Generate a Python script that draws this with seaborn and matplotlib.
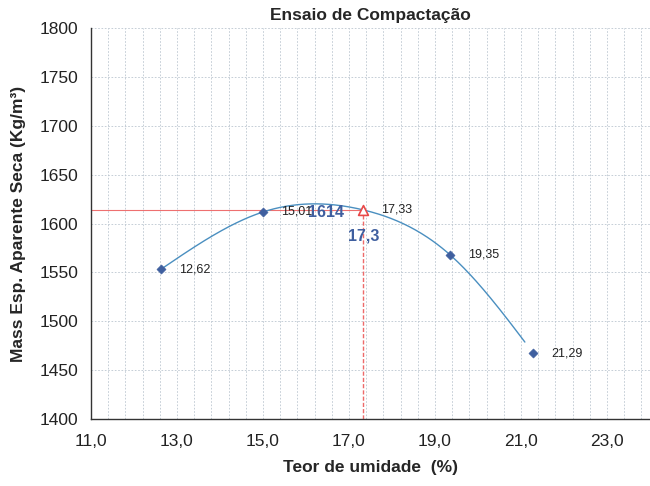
import numpy as np
import pandas as pd
import matplotlib
matplotlib.use("Agg")
import matplotlib.pyplot as plt
from matplotlib.ticker import MultipleLocator, FixedLocator, FuncFormatter
import seaborn as sns

# Compaction test data
umidade = [12.62, 15.01, 19.35, 21.29]          # moisture content (%)
massa = [1553, 1612, 1568, 1467]                # dry unit mass (kg/m3)
labels = ["12,62", "15,01", "19,35", "21,29"]

# Optimum point
umid_otima = 17.33
massa_max = 1614


def natural_spline(xk, yk, xs):
    """Natural cubic spline through the knots (xk, yk), evaluated at xs."""
    xk = np.asarray(xk, float)
    yk = np.asarray(yk, float)
    n = len(xk)
    h = np.diff(xk)
    A = np.zeros((n, n))
    b = np.zeros(n)
    A[0, 0] = A[-1, -1] = 1.0
    for i in range(1, n - 1):
        A[i, i - 1] = h[i - 1]
        A[i, i] = 2 * (h[i - 1] + h[i])
        A[i, i + 1] = h[i]
        b[i] = 6 * ((yk[i + 1] - yk[i]) / h[i] - (yk[i] - yk[i - 1]) / h[i - 1])
    m = np.linalg.solve(A, b)
    idx = np.clip(np.searchsorted(xk, xs) - 1, 0, n - 2)
    x0, x1 = xk[idx], xk[idx + 1]
    hh = x1 - x0
    t0, t1 = x1 - xs, xs - x0
    return (m[idx] * t0 ** 3 / (6 * hh) + m[idx + 1] * t1 ** 3 / (6 * hh)
            + (yk[idx] / hh - m[idx] * hh / 6) * t0
            + (yk[idx + 1] / hh - m[idx + 1] * hh / 6) * t1)


sns.set_style("white")
plt.rcParams["font.family"] = ["Liberation Sans", "DejaVu Sans"]

fig = plt.figure(figsize=(6.5, 4.86), dpi=100)
ax = fig.add_axes([0.14, 0.138, 0.86, 0.804])

df = pd.DataFrame({"umidade": umidade, "massa": massa})

# Smooth compaction curve through the test points and the optimum
knots_x = [umidade[0], umidade[1], umid_otima, umidade[2], umidade[3]]
knots_y = [massa[0], massa[1], massa_max, massa[2], massa[3]]
xs = np.linspace(umidade[0], umidade[-1] - 0.2, 300)
curve = pd.DataFrame({"umidade": xs, "massa": natural_spline(knots_x, knots_y, xs)})
sns.lineplot(data=curve, x="umidade", y="massa", ax=ax, color="#4a8fc0",
             linewidth=1.0, zorder=3)

# Guide lines to the optimum
ax.plot([11, umid_otima], [massa_max, massa_max], color="#ee7070", lw=0.8, zorder=2.5)
ax.plot([umid_otima, umid_otima], [1400, massa_max], color="#ee6a6a", lw=1.0,
        ls=(0, (3, 1.5)), zorder=2.5)

sns.scatterplot(data=df, x="umidade", y="massa", ax=ax, marker="D", s=22,
                color="#3f5f9f", edgecolor="#3f5f9f", zorder=4)
ax.scatter([umid_otima], [massa_max], marker="^", s=50, facecolor="white",
           edgecolor="#e84848", linewidth=1.2, zorder=5)

for x, y, t in zip(umidade, massa, labels):
    ax.annotate(t, (x, y), xytext=(13, 0), textcoords="offset points",
                fontsize=9, va="center", ha="left", color="#222222", zorder=6)

ax.annotate("17,33", (umid_otima, massa_max), xytext=(13, 0),
            textcoords="offset points", fontsize=9, va="center", ha="left",
            color="#222222")
ax.annotate(str(massa_max), (umid_otima, massa_max), xytext=(-14, -2),
            textcoords="offset points", fontsize=11.5, fontweight="bold",
            va="center", ha="right", color="#3f5f9f")
ax.annotate(f"{umid_otima:.1f}".replace(".", ","), (umid_otima, massa_max),
            xytext=(0, -19), textcoords="offset points", fontsize=11.5,
            fontweight="bold", va="center", ha="center", color="#3f5f9f")

ax.set_xlim(11, 24)
ax.set_ylim(1400, 1800)

ax.xaxis.set_major_locator(FixedLocator(np.arange(11, 24, 2.0)))
ax.xaxis.set_minor_locator(FixedLocator(np.arange(11, 24.01, 0.4)))
ax.yaxis.set_major_locator(MultipleLocator(50))
ax.yaxis.set_minor_locator(MultipleLocator(10))
ax.xaxis.set_major_formatter(FuncFormatter(lambda v, p: f"{v:.1f}".replace(".", ",")))
ax.yaxis.set_major_formatter(FuncFormatter(lambda v, p: f"{v:.0f}"))

ax.grid(False)
for v in np.arange(11.4, 24.0, 0.4):
    ax.axvline(v, color="#bcc6d0", lw=0.6, ls=(0, (2, 2)), zorder=1)
for v in np.arange(1450, 1801, 50):
    ax.axhline(v, color="#bcc6d0", lw=0.6, ls=(0, (2, 2)), zorder=1)

for s in ["top", "right"]:
    ax.spines[s].set_visible(False)
for s in ["left", "bottom"]:
    ax.spines[s].set_color("#333333")
    ax.spines[s].set_linewidth(1.0)

ax.tick_params(axis="both", which="both", direction="inout", color="#333333",
               width=0.8)
ax.tick_params(axis="x", which="both", length=6, pad=8, labelsize=12.5)
ax.tick_params(axis="y", which="both", length=6, pad=6, labelsize=12.5)
ax.tick_params(axis="both", colors="#222222", labelcolor="#222222")

ax.set_xlabel("Teor de umidade  (%)", fontsize=12.5, fontweight="bold", labelpad=8)
ax.set_ylabel("Mass Esp. Aparente Seca (Kg/m³)", fontsize=12.5, fontweight="bold",
              labelpad=10)
ax.set_title("Ensaio de Compactação", fontsize=12.5, fontweight="bold", pad=6)

fig.savefig("out.png", dpi=100)
